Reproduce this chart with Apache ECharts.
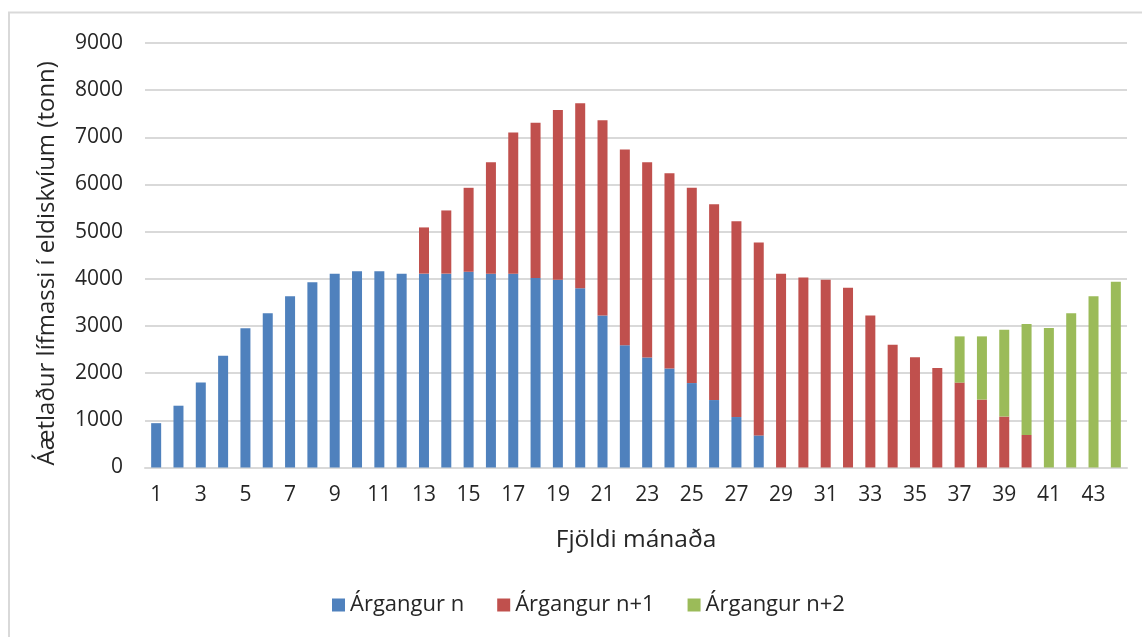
<!DOCTYPE html>
<html>
<head>
<meta charset="utf-8">
<script src="https://cdn.jsdelivr.net/npm/echarts@6/dist/echarts.min.js"></script>
<style>
html,body{margin:0;padding:0;background:#fff;}
#chart{width:1142px;height:637px;}
</style>
</head>
<body>
<div id="chart"></div>
<script>
// Months 1..44
const months = Array.from({length: 44}, (_, i) => String(i + 1));
const seriesNames = ['Árgangur n', 'Árgangur n+1', 'Árgangur n+2'];
// Segment values (tonn); null = no bar
const argangurN = [940,1310,1800,2370,2950,3270,3630,3930,4110,4160,4160,4110,
  4110,4110,4150,4110,4110,4020,3980,3800,3220,2590,2330,2100,1790,1430,1070,680,
  null,null,null,null,null,null,null,null,null,null,null,null,null,null,null,null];
const argangurN1 = [null,null,null,null,null,null,null,null,null,null,null,null,
  980,1340,1780,2360,2990,3290,3600,3920,4140,4150,4140,4140,4140,4150,4150,4090,
  4110,4030,3980,3810,3220,2600,2340,2110,1800,1440,1080,690,null,null,null,null];
const argangurN2 = [null,null,null,null,null,null,null,null,null,null,null,null,
  null,null,null,null,null,null,null,null,null,null,null,null,null,null,null,null,
  null,null,null,null,null,null,null,null,980,1340,1840,2350,2960,3270,3630,3940];
const yTicks = [0,1000,2000,3000,4000,5000,6000,7000,8000,9000];

const FONT = 'Open Sans';
const TXT = '#262626';
const chart = echarts.init(document.getElementById('chart'), null, {renderer: 'canvas'});
const colors = ['#4F81BD', '#C0504D', '#9BBB59'];
const dataArr = [argangurN, argangurN1, argangurN2];

chart.setOption({
  animation: false,
  textStyle: {fontFamily: FONT},
  graphic: [{
    type: 'rect', silent: true, z: -10,
    shape: {x: 9, y: 12.5, width: 1300, height: 800},
    style: {fill: '#fff', stroke: '#d9d9d9', lineWidth: 2}
  }],
  grid: {left: 145, right: 15, top: 43, bottom: 169.5, containLabel: false},
  legend: {
    data: seriesNames,
    left: 327, top: 589,
    itemWidth: 13, itemHeight: 13, itemGap: 33,
    icon: 'rect',
    textStyle: {fontFamily: FONT, fontSize: 22, color: TXT}
  },
  xAxis: {
    type: 'category',
    data: months,
    name: 'Fjöldi mánaða',
    nameLocation: 'middle',
    nameGap: 60,
    nameTextStyle: {fontFamily: FONT, fontSize: 24.5, color: TXT},
    axisLine: {lineStyle: {color: '#d9d9d9', width: 2}},
    axisTick: {show: false},
    axisLabel: {interval: 1, fontFamily: FONT, fontSize: 21, color: TXT, margin: 17}
  },
  yAxis: {
    type: 'value',
    min: yTicks[0], max: yTicks[yTicks.length - 1], interval: 1000,
    name: 'Áætlaður lífmassi í eldiskvíum (tonn)',
    nameLocation: 'middle',
    nameGap: 86,
    nameTextStyle: {fontFamily: FONT, fontSize: 24, color: TXT, padding: [0, 16, 0, 0]},
    axisLine: {show: false},
    axisTick: {show: false},
    axisLabel: {fontFamily: FONT, fontSize: 21, color: TXT, margin: 22, formatter: v => String(v)},
    splitLine: {lineStyle: {color: '#d9d9d9', width: 2}}
  },
  series: seriesNames.map((n, i) => ({
    name: n,
    type: 'bar',
    stack: 'total',
    data: dataArr[i],
    barWidth: 10,
    itemStyle: {color: colors[i]}
  }))
});
</script>
</body>
</html>
